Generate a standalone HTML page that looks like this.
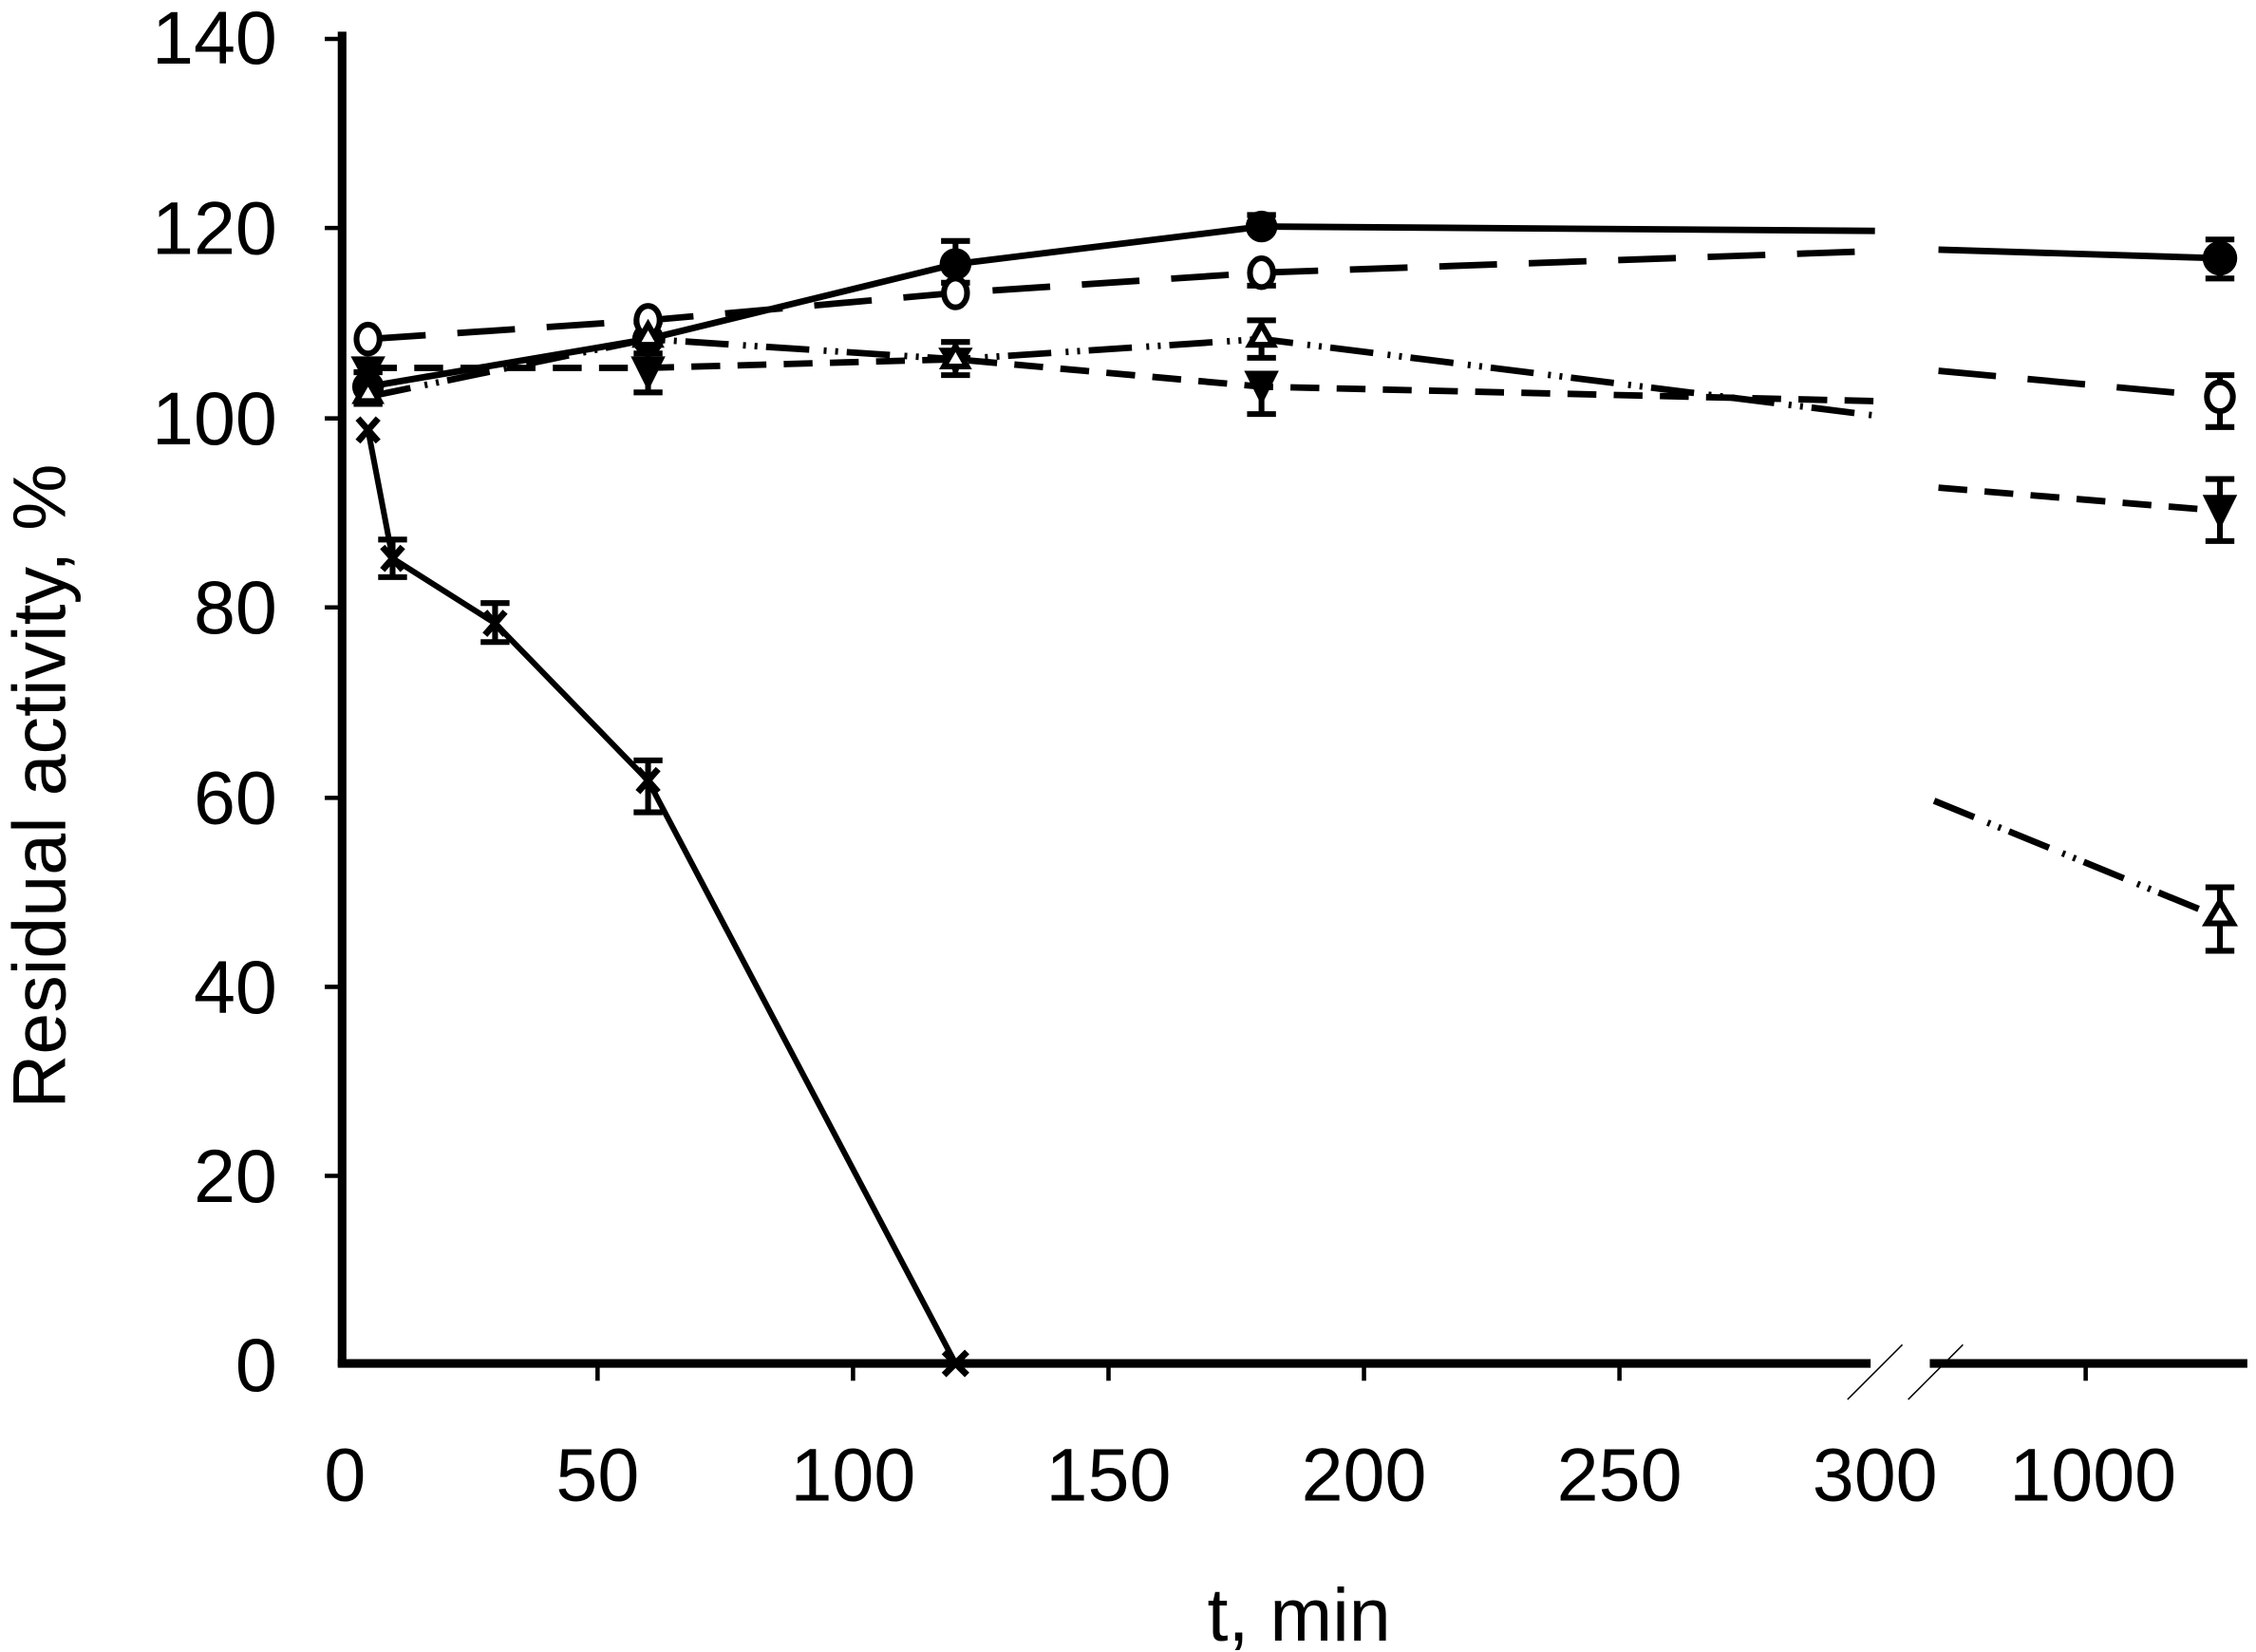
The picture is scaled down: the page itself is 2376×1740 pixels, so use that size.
<!DOCTYPE html>
<html><head><style>html,body{margin:0;padding:0;background:#fff}svg{display:block}</style></head><body>
<svg width="2376" height="1740" viewBox="0 0 1563 1145" preserveAspectRatio="none" xmlns="http://www.w3.org/2000/svg" font-family="Liberation Sans, sans-serif">
<rect width="1563" height="1145" fill="#fff"/>
<g stroke="#000" fill="none">
<line x1="237" y1="22" x2="237" y2="947" stroke-width="6"/>
<line x1="234" y1="945" x2="1296" y2="945" stroke-width="6"/>
<line x1="1337" y1="945" x2="1557" y2="945" stroke-width="6"/>
<line x1="1280" y1="970" x2="1318" y2="932" stroke-width="1"/>
<line x1="1322" y1="970" x2="1360" y2="932" stroke-width="1"/>
<g stroke-width="3">
<line x1="225" y1="27" x2="237" y2="27"/><line x1="225" y1="158" x2="237" y2="158"/><line x1="225" y1="290" x2="237" y2="290"/><line x1="225" y1="421" x2="237" y2="421"/><line x1="225" y1="553" x2="237" y2="553"/><line x1="225" y1="684" x2="237" y2="684"/><line x1="225" y1="815" x2="237" y2="815"/>
<line x1="414" y1="945" x2="414" y2="957"/><line x1="591" y1="945" x2="591" y2="957"/><line x1="768" y1="945" x2="768" y2="957"/><line x1="945" y1="945" x2="945" y2="957"/><line x1="1122" y1="945" x2="1122" y2="957"/><line x1="1445" y1="945" x2="1445" y2="957"/>
</g>
<polyline points="255,268 449,235 662,183 874,157 1299,160" stroke-width="4.5"/>
<line x1="1343" y1="173" x2="1538" y2="179" stroke-width="4.5"/>
<polyline points="255,235 449,222 662,203 874,189 1299,174" stroke-width="4.5" stroke-dasharray="40,22"/>
<line x1="1343" y1="257" x2="1538" y2="275" stroke-width="4.5" stroke-dasharray="40,22"/>
<polyline points="255,255 449,255 662,249 874,268 1299,278" stroke-width="4.5" stroke-dasharray="20,12"/>
<line x1="1343" y1="338" x2="1538" y2="354" stroke-width="4.5" stroke-dasharray="20,12"/>
<polyline points="255,275 449,235 662,249 874,235 1299,288" stroke-width="4.5" stroke-dasharray="30,10,2,6,2,6"/>
<line x1="1340" y1="555" x2="1538" y2="636" stroke-width="4.5" stroke-dasharray="30,10,2,6,2,6"/>
<polyline points="255,298 272,387 343,432 449,541 662,945" stroke-width="4"/>
<g stroke-width="4">
<path d="M255,258v22M245,258h20M245,280h20"/>
<path d="M449,223v22M439,223h20M439,245h20"/>
<path d="M449,245v27M439,272h20"/>
<path d="M662,167v29M652,167h20M652,196h20"/>
<path d="M874,149v17M864,149h20"/>
<path d="M874,180v18M864,198h20"/>
<path d="M874,222v26M864,222h20M864,248h20"/>
<path d="M874,258v29M864,287h20"/>
<path d="M662,237v23M652,237h20M652,260h20"/>
<path d="M272,374v26M262,374h20M262,400h20"/>
<path d="M343,418v27M333,418h20M333,445h20"/>
<path d="M449,527v36M439,527h20M439,563h20"/>
<path d="M1538,166v27M1528,166h20M1528,193h20"/>
<path d="M1538,260v36M1528,260h20M1528,296h20"/>
<path d="M1538,332v43M1528,332h20M1528,375h20"/>
<path d="M1538,615v44M1528,615h20M1528,659h20"/>
</g>
</g>
<g fill="#000">
<circle cx="255" cy="268" r="11"/><circle cx="449" cy="235" r="11"/><circle cx="662" cy="183" r="11"/><circle cx="874" cy="157" r="11"/><circle cx="1538" cy="179" r="12"/>
<path d="M243,247h24l-12,22z M437,247h24l-12,24z M650,241h24l-12,19z M862,257h24l-12,24z M1526,343h24l-12,24z"/>
</g>
<g fill="#fff" stroke="#000" stroke-width="4">
<ellipse cx="255" cy="235" rx="8" ry="10"/><ellipse cx="449" cy="222" rx="8" ry="10"/><ellipse cx="662" cy="203" rx="8" ry="10"/><ellipse cx="874" cy="189" rx="8" ry="10"/><ellipse cx="1538" cy="275" rx="9" ry="10"/>
<path d="M255,264l8,14h-16z M449,225l8,14h-16z M662,240l8,14h-16z M874,225l8,14h-16z M1538,625l9,15h-18z"/>
</g>
<g stroke="#000" stroke-width="4.5">
<path d="M248,290l14,16M262,290l-14,16 M265,379l14,16M279,379l-14,16 M336,424l14,16M350,424l-14,16 M442,533l14,16M456,533l-14,16 M654,937l16,16M670,937l-16,16"/>
</g>
<g font-size="52" fill="#000" text-anchor="end">
<text x="192" y="44">140</text><text x="192" y="176">120</text><text x="192" y="308">100</text><text x="192" y="439">80</text><text x="192" y="571">60</text><text x="192" y="702">40</text><text x="192" y="833">20</text><text x="192" y="964">0</text>
</g>
<g font-size="52" fill="#000" text-anchor="middle">
<text x="239" y="1040">0</text><text x="414" y="1040">50</text><text x="591" y="1040">100</text><text x="768" y="1040">150</text><text x="945" y="1040">200</text><text x="1122" y="1040">250</text><text x="1299" y="1040">300</text><text x="1450" y="1040">1000</text>
<text x="900" y="1137">t, min</text>
<text transform="translate(45,545) rotate(-90)">Residual activity, %</text>
</g>
</svg>
</body></html>
